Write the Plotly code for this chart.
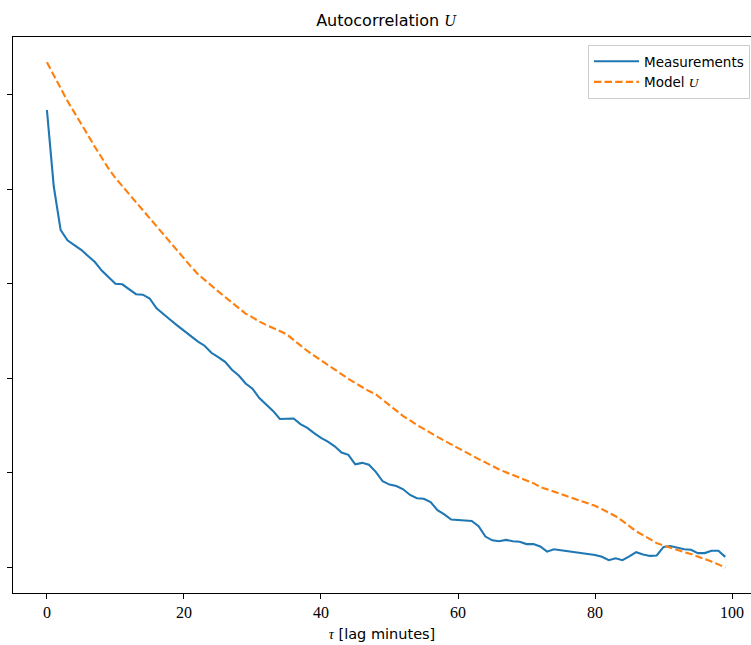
import plotly.graph_objects as go

# Lag axis (minutes)
lags = list(range(100))

# Measured autocorrelation of U
measured = [
    0.968, 0.806, 0.714, 0.692, 0.682, 0.672, 0.659, 0.646, 0.628, 0.614,
    0.600, 0.599, 0.588, 0.578, 0.577, 0.569, 0.548, 0.535, 0.524, 0.512,
    0.501, 0.491, 0.478, 0.469, 0.454, 0.445, 0.435, 0.418, 0.406, 0.389,
    0.378, 0.358, 0.345, 0.331, 0.314, 0.315, 0.315, 0.303, 0.295, 0.284,
    0.274, 0.266, 0.256, 0.243, 0.238, 0.218, 0.221, 0.217, 0.202, 0.182,
    0.175, 0.172, 0.165, 0.153, 0.146, 0.145, 0.138, 0.121, 0.112, 0.101,
    0.100, 0.100, 0.098, 0.087, 0.065, 0.057, 0.055, 0.058, 0.055, 0.054,
    0.049, 0.049, 0.044, 0.033, 0.038, 0.036, 0.034, 0.032, 0.031, 0.029,
    0.026, 0.022, 0.015, 0.019, 0.015, 0.023, 0.032, 0.027, 0.024, 0.025,
    0.043, 0.045, 0.041, 0.038, 0.037, 0.030, 0.030, 0.035, 0.035, 0.022,
]

# Model autocorrelation of U
model = [
    1.069, 1.042, 1.013, 0.987, 0.963, 0.938, 0.913, 0.890, 0.867, 0.844,
    0.824, 0.807, 0.789, 0.772, 0.755, 0.738, 0.721, 0.704, 0.686, 0.669,
    0.653, 0.637, 0.621, 0.608, 0.596, 0.584, 0.572, 0.561, 0.549, 0.537,
    0.529, 0.520, 0.513, 0.507, 0.500, 0.493, 0.481, 0.470, 0.458, 0.448,
    0.438, 0.429, 0.418, 0.408, 0.399, 0.390, 0.381, 0.373, 0.366, 0.355,
    0.343, 0.332, 0.320, 0.311, 0.301, 0.293, 0.284, 0.276, 0.268, 0.260,
    0.252, 0.244, 0.236, 0.229, 0.222, 0.214, 0.207, 0.201, 0.195, 0.190,
    0.184, 0.178, 0.170, 0.165, 0.160, 0.156, 0.151, 0.146, 0.141, 0.135,
    0.130, 0.123, 0.116, 0.108, 0.098, 0.087, 0.076, 0.068, 0.059, 0.051,
    0.046, 0.041, 0.036, 0.032, 0.028, 0.023, 0.018, 0.012, 0.006, -0.001,
]

x_ticks = [0, 20, 40, 60, 80, 100]
y_ticks = [0.0, 0.2, 0.4, 0.6, 0.8, 1.0]

SERIF = "Liberation Serif"
SANS = "DejaVu Sans"

fig = go.Figure()
fig.add_trace(go.Scatter(
    x=lags, y=measured, mode="lines", name="Measurements",
    line=dict(color="#1f77b4", width=2.1),
))
fig.add_trace(go.Scatter(
    x=lags, y=model, mode="lines",
    name=f"Model <span style=\"font-family:{SERIF}\"><i>U</i></span>",
    line=dict(color="#ff7f0e", width=2.1, dash="7.4px,3.2px"),
))

fig.update_layout(
    width=751, height=645,
    margin=dict(l=12.6, r=0, t=37, b=52),
    paper_bgcolor="white", plot_bgcolor="white",
    showlegend=True,
    title=dict(
        text=f"Autocorrelation <span style=\"font-family:{SERIF}\"><i>U</i></span>",
        x=386 / 751, xanchor="center", xref="container",
        y=1 - 20 / 645, yanchor="middle", yref="container",
        font=dict(family=SANS, size=16, color="black"),
    ),
    legend=dict(
        x=(750 - 12.6) / 738.4, xanchor="right",
        y=(593 - 45) / 556, yanchor="top",
        bgcolor="rgba(255,255,255,0.8)", bordercolor="#cccccc", borderwidth=1,
        font=dict(family=SANS, size=13.5, color="black"),
        tracegroupgap=0, itemwidth=45,
    ),
    xaxis=dict(
        range=[-4.95, 102.76],
        tickvals=x_ticks, ticktext=[str(v) for v in x_ticks],
        ticks="outside", ticklen=5, tickwidth=1, tickcolor="black",
        showline=True, linecolor="black", linewidth=1.1, mirror=True,
        showgrid=False, zeroline=False,
        tickfont=dict(family=SERIF, size=16, color="black"),
        title=dict(
            text=f"<span style=\"font-family:{SERIF}\"><i>τ</i></span> [lag minutes]",
            font=dict(family=SANS, size=14.5, color="black"),
            standoff=8,
        ),
    ),
    yaxis=dict(
        range=[-0.0545, 1.1225],
        tickvals=y_ticks, showticklabels=False,
        ticks="outside", ticklen=5, tickwidth=1, tickcolor="black",
        showline=True, linecolor="black", linewidth=1.1, mirror=False,
        showgrid=False, zeroline=False,
    ),
)

fig.write_html("out.html")
